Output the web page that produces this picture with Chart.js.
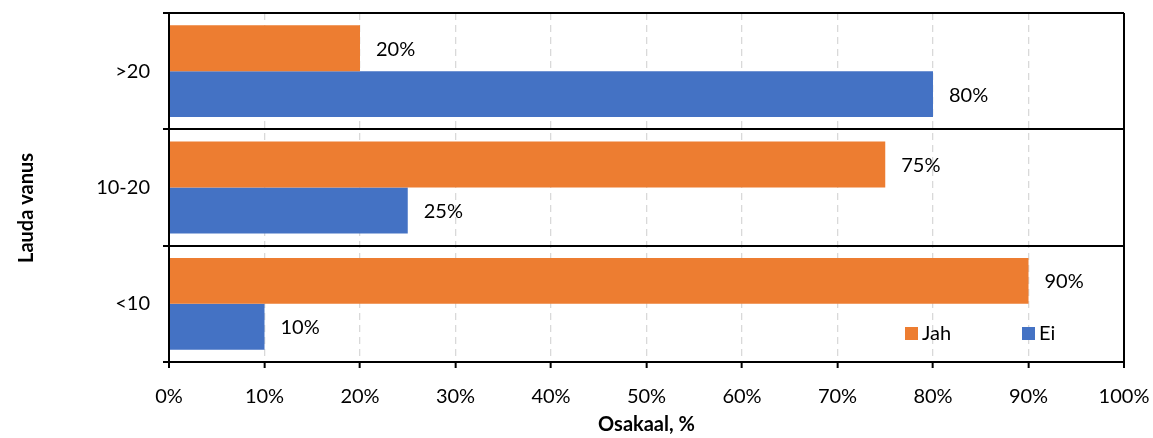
<!DOCTYPE html>
<html>
<head>
<meta charset="utf-8">
<script src="https://cdn.jsdelivr.net/npm/chart.js@4/dist/chart.umd.min.js"></script>
<style>
  html, body { margin: 0; padding: 0; background: #fff; }
  #wrap { width: 1153px; height: 438px; position: relative; }
</style>
</head>
<body>
<div id="wrap"><canvas id="chart"></canvas></div>
<script>
// Lauda vanus vs osakaal
const categories = ['>20', '10-20', '<10'];
const jahValues = [20, 75, 90];
const eiValues = [80, 25, 10];
const seriesNames = ['Jah', 'Ei'];
const seriesColors = ['#ED7D31', '#4472C4'];
const yTitle = 'Lauda vanus';

const FONT = 'Lato, sans-serif';

// value labels to the right of each bar
const barLabels = {
  id: 'barLabels',
  afterDatasetsDraw(chart) {
    const ctx = chart.ctx;
    ctx.save();
    ctx.font = '20px ' + FONT;
    ctx.fillStyle = '#000';
    ctx.textAlign = 'left';
    ctx.textBaseline = 'middle';
    chart.data.datasets.forEach((ds, i) => {
      chart.getDatasetMeta(i).data.forEach((bar, j) => {
        ctx.fillText(ds.data[j] + '%', bar.x + 16, bar.y + 1);
      });
    });
    ctx.restore();
  }
};

// legend sits inside the plot, bottom right; y title drawn by hand
const extras = {
  id: 'extras',
  afterDraw(chart) {
    const ctx = chart.ctx;
    const area = chart.chartArea;
    const y = area.bottom - 29;
    const xs = [area.right - 219, area.right - 102];
    ctx.save();
    ctx.font = '20px ' + FONT;
    ctx.textBaseline = 'middle';
    ctx.textAlign = 'left';
    chart.data.datasets.forEach((ds, i) => {
      ctx.fillStyle = ds.backgroundColor;
      ctx.fillRect(xs[i], y - 6, 13, 13);
      ctx.fillStyle = '#000';
      ctx.fillText(ds.label, xs[i] + 17, y + 1);
    });

    ctx.translate(27, 208);
    ctx.rotate(-Math.PI / 2);
    ctx.textAlign = 'center';
    ctx.font = 'bold 20px ' + FONT;
    ctx.fillText(yTitle, 0, 0);
    ctx.restore();
  }
};

new Chart(document.getElementById('chart'), {
  type: 'bar',
  data: {
    labels: categories,
    datasets: [
      { label: seriesNames[0], data: jahValues, backgroundColor: seriesColors[0] },
      { label: seriesNames[1], data: eiValues, backgroundColor: seriesColors[1] }
    ]
  },
  options: {
    indexAxis: 'y',
    responsive: true,
    maintainAspectRatio: false,
    animation: false,
    barPercentage: 1,
    categoryPercentage: 0.79,
    layout: { padding: { top: 13, right: 29, left: 0, bottom: 0 } },
    scales: {
      x: {
        min: 0,
        max: 100,
        ticks: {
          stepSize: 10,
          color: '#000',
          font: { size: 20, family: FONT },
          padding: 17,
          callback: v => v + '%'
        },
        grid: {
          color: c => (c.index === 0 || c.index === 10) ? '#000' : '#d9d9d9',
          lineWidth: c => (c.index === 0 || c.index === 10) ? 2 : 1.3,
          tickColor: '#000',
          tickLength: 6,
          tickWidth: 2,
          tickBorderDash: []
        },
        border: {
          color: '#000',
          width: 2,
          dash: c => (c.index === 0 || c.index === 10) ? [] : [7, 5]
        },
        title: {
          display: true,
          text: 'Osakaal, %',
          color: '#000',
          font: { size: 20, weight: 'bold', family: FONT },
          padding: { top: 0, bottom: 1 }
        },
        afterFit: s => {
          s.height = 76;
          s.paddingLeft = 0;
          s.paddingRight = 0;
        }
      },
      y: {
        ticks: {
          color: '#000',
          font: { size: 20, family: FONT },
          padding: 13
        },
        grid: {
          color: '#000',
          lineWidth: 2,
          tickColor: '#000',
          tickLength: 6
        },
        border: { color: '#000', width: 2 },
        afterFit: s => {
          s.width = 169;
          s.paddingTop = 0;
          s.paddingBottom = 0;
        }
      }
    },
    plugins: {
      legend: { display: false },
      tooltip: { enabled: false }
    }
  },
  plugins: [barLabels, extras]
});
</script>
</body>
</html>
